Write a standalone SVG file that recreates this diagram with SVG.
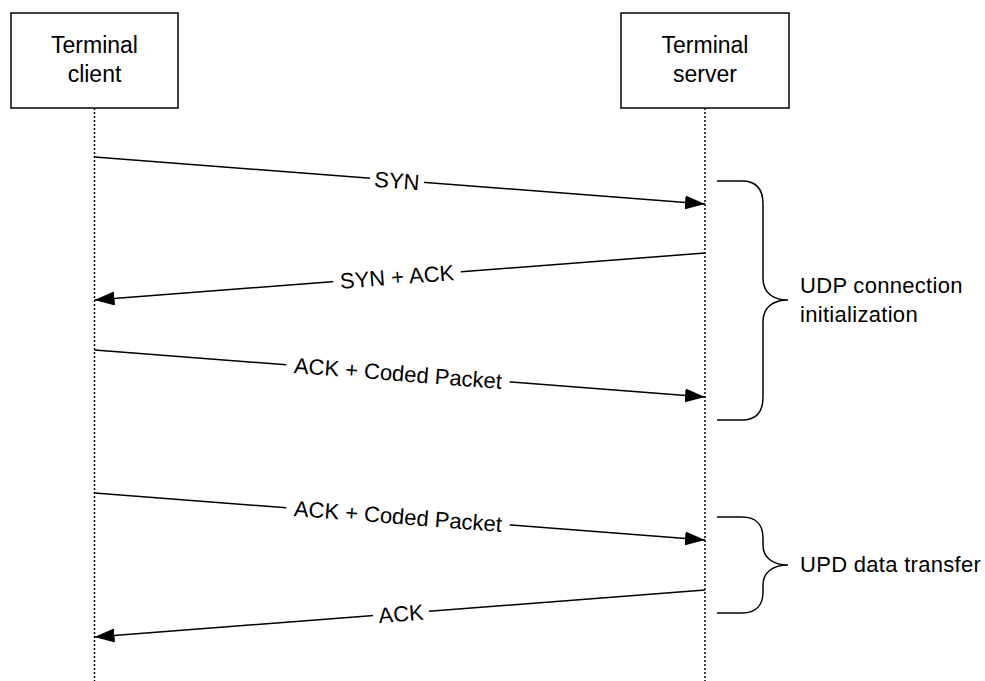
<svg xmlns="http://www.w3.org/2000/svg" width="985" height="681" viewBox="0 0 985 681">
<defs>
<marker id="ah" markerWidth="20" markerHeight="14" refX="20" refY="7" orient="auto" markerUnits="userSpaceOnUse">
<path d="M0,0 L20,7 L0,14 Z" fill="#000"/>
</marker>
<style>
.box{fill:#fff;stroke:#000;stroke-width:1.5}
.life{stroke:#000;stroke-width:1.5;stroke-dasharray:2,2;fill:none}
.msg{stroke:#000;stroke-width:1.5;fill:none;marker-end:url(#ah)}
.brace{stroke:#000;stroke-width:1.5;fill:none}
.t{font-family:"Liberation Sans",Arial,sans-serif;font-size:22px;fill:#000}
.tb{font-family:"Liberation Sans",Arial,sans-serif;font-size:23px;fill:#000}
.ts{font-family:"Liberation Sans",Arial,sans-serif;font-size:22px;letter-spacing:0.3px;fill:#000}
.bg{fill:#fff}
</style>
</defs>
<rect width="985" height="681" fill="#fff"/>
<g id="client">
<rect class="box" x="11" y="13" width="167" height="95"/>
<text class="tb" x="94.5" y="53" text-anchor="middle">Terminal</text>
<text class="tb" x="94.5" y="82" text-anchor="middle">client</text>
</g>
<g id="server">
<rect class="box" x="621" y="13" width="168" height="95"/>
<text class="tb" x="705" y="53" text-anchor="middle">Terminal</text>
<text class="tb" x="705" y="82" text-anchor="middle">server</text>
</g>
<g id="lifelines">
<line class="life" x1="94.5" y1="108" x2="94.5" y2="681"/>
<line class="life" x1="705" y1="108" x2="705" y2="681"/>
</g>
<g id="connectors">
<line class="msg" x1="94.5" y1="157" x2="705" y2="204"/>
<line class="msg" x1="705" y1="253" x2="94.5" y2="300"/>
<line class="msg" x1="94.5" y1="350" x2="705" y2="397"/>
<line class="msg" x1="94.5" y1="493" x2="705" y2="540"/>
<line class="msg" x1="705" y1="590" x2="94.5" y2="637"/>
<g transform="translate(397,180.5) rotate(4.4)">
<rect class="bg" x="-27" y="-12" width="54" height="24"/>
<text class="t" x="0" y="8" text-anchor="middle">SYN</text>
</g>
<g transform="translate(397,276.5) rotate(-4.4)">
<rect class="bg" x="-64" y="-12" width="128" height="24"/>
<text class="t" x="0" y="8" text-anchor="middle">SYN + ACK</text>
</g>
<g transform="translate(398,373) rotate(4.4)">
<rect class="bg" x="-112" y="-12" width="224" height="24"/>
<text class="t" x="0" y="8" text-anchor="middle">ACK + Coded Packet</text>
</g>
<g transform="translate(398,516) rotate(4.4)">
<rect class="bg" x="-112" y="-12" width="224" height="24"/>
<text class="t" x="0" y="8" text-anchor="middle">ACK + Coded Packet</text>
</g>
<g transform="translate(401,613.5) rotate(-4.4)">
<rect class="bg" x="-28" y="-12" width="56" height="24"/>
<text class="t" x="0" y="8" text-anchor="middle">ACK</text>
</g>
</g>
<g id="brace-udp-init">
<path class="brace" d="M717,181 H742 C757,181 763,190 763,204 V278 C763,292 772,300 788,300 C772,300 763,308 763,322 V397 C763,411 757,420 742,420 H717"/>
<text class="ts" x="800" y="293">UDP connection</text>
<text class="ts" x="800" y="322">initialization</text>
</g>
<g id="brace-udp-data">
<path class="brace" d="M717,517 H742 C757,517 763,526 763,538 V545 C763,557 772,565 788,565 C772,565 763,573 763,585 V592 C763,604 757,613 742,613 H717"/>
<text class="ts" x="800" y="572">UPD data transfer</text>
</g>
</svg>
